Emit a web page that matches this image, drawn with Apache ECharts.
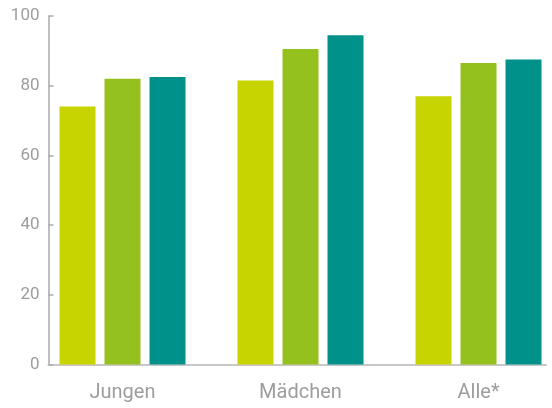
<!DOCTYPE html>
<html>
<head>
<meta charset="utf-8">
<script src="https://cdn.jsdelivr.net/npm/echarts@6/dist/echarts.min.js"></script>
<style>html,body{margin:0;padding:0;background:#fff}#c{width:552px;height:408px}</style>
</head>
<body>
<div id="c"></div>
<script>
var categories = ['Jungen', 'Mädchen', 'Alle*'];
var series1 = [74, 81.5, 77];
var series2 = [82, 90.5, 86.5];
var series3 = [82.5, 94.5, 87.5];
var yTicks = [0, 20, 40, 60, 80, 100];
var colors = ['#c8d400', '#95c11f', '#00918b'];

var chart = echarts.init(document.getElementById('c'));
var font = 'Roboto';
chart.setOption({
  animation: false,
  grid: [
    { left: 48.5, right: 6, top: 16, bottom: 43.5 },
    { left: 33.5, right: -15.5, top: 16, bottom: 43.5, outerBoundsMode: 'none', containLabel: false }
  ],
  xAxis: [
    { gridIndex: 0, type: 'value', min: 0, max: 1,
      axisLine: { show: true, lineStyle: { color: '#c8c8c8', width: 2 } },
      axisTick: { show: false }, axisLabel: { show: false }, splitLine: { show: false } },
    { gridIndex: 1, type: 'category', data: categories,
      axisLine: { show: false }, axisTick: { show: false }, splitLine: { show: false },
      axisLabel: { color: '#9d9d9d', fontFamily: font, fontSize: 20, margin: 18.5 } }
  ],
  yAxis: [
    { gridIndex: 0, type: 'value', min: yTicks[0], max: yTicks[yTicks.length - 1], interval: 20,
      axisLine: { show: true, lineStyle: { color: '#aaaaaa', width: 1.5 } },
      axisTick: { show: true, inside: true, length: 5, lineStyle: { color: '#aaaaaa', width: 1.5 } },
      splitLine: { show: false },
      axisLabel: { color: '#9d9d9d', fontFamily: font, fontSize: 17, margin: 9, padding: [3, 0, 0, 0] } },
    { gridIndex: 1, type: 'value', min: 0, max: 100, show: false, splitLine: { show: false } }
  ],
  series: [
    { type: 'bar', xAxisIndex: 1, yAxisIndex: 1, data: series1, barWidth: 36, barGap: '25%', itemStyle: { color: colors[0] } },
    { type: 'bar', xAxisIndex: 1, yAxisIndex: 1, data: series2, barWidth: 36, barGap: '25%', itemStyle: { color: colors[1] } },
    { type: 'bar', xAxisIndex: 1, yAxisIndex: 1, data: series3, barWidth: 36, barGap: '25%', itemStyle: { color: colors[2] } }
  ]
});
</script>
</body>
</html>
